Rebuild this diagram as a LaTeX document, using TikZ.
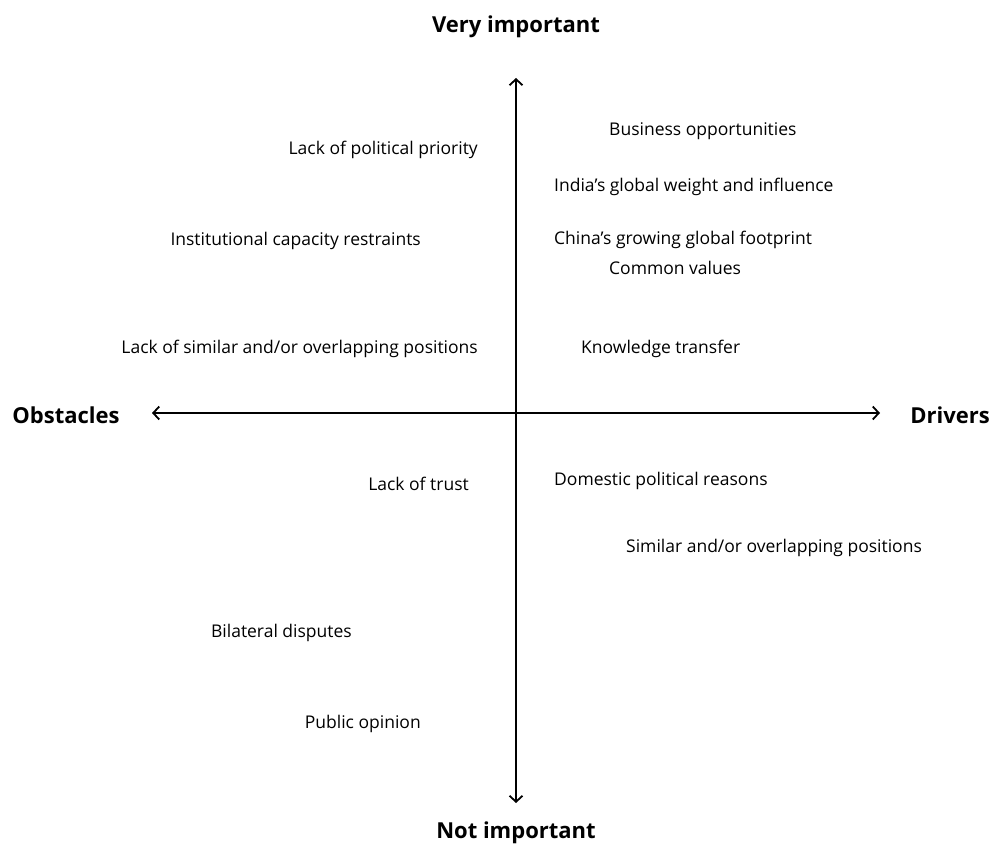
\documentclass[tikz,border=0pt]{standalone}
\usepackage{fontspec}
\setmainfont{Open Sans}
\usepackage{tikz}
\usetikzlibrary{positioning,arrows.meta}
\usepackage{xcolor}

\begin{document}
\begin{tikzpicture}[x=1pt,y=1pt,
  factor/.style={font=\fontsize{17.5}{20}\selectfont,inner sep=0pt},
  axislabel/.style={font=\fontsize{22}{24}\bfseries\selectfont,inner sep=0pt},
  axis/.style={line width=1.8pt,{Straight Barb[length=6pt,width=13pt,line width=1.8pt]}-{Straight Barb[length=6pt,width=13pt,line width=1.8pt]}}]
\useasboundingbox (0,0) rectangle (996,847);
\coordinate (top) at (516,769);
\coordinate (bottom) at (516,44);
\coordinate (left) at (152,434);
\coordinate (right) at (880,434);
\draw [axis](bottom)--(top);
\draw [axis](left)--(right);
\node [axislabel] (very) at (516,820) {Very important};
\node [axislabel] (notimp) at (516,14) {Not important};
\node [axislabel] (obstacles) at (66,432) {Obstacles};
\node [axislabel] (drivers) at (950,432) {Drivers};
\node [factor,anchor=east] (priority) at (478,697) {Lack of political priority};
\node [factor,anchor=east] (capacity) at (421,606) {Institutional capacity restraints};
\node [factor,anchor=east] (lacksimilar) at (478,498) {Lack of similar and/or overlapping positions};
\node [factor,anchor=east] (trust) at (469,363) {Lack of trust};
\node [factor,anchor=east] (disputes) at (352,214) {Bilateral disputes};
\node [factor,anchor=east] (opinion) at (421,123) {Public opinion};
\node [factor,anchor=west] (business) at (609,716) {Business opportunities};
\node [factor,anchor=west] (india) at (554,660) {India’s global weight and influence};
\node [factor,anchor=west] (china) at (554,607) {China’s growing global footprint};
\node [factor,anchor=west] (values) at (609,579) {Common values};
\node [factor,anchor=west] (knowledge) at (581,498) {Knowledge transfer};
\node [factor,anchor=west] (domestic) at (554,366) {Domestic political reasons};
\node [factor,anchor=west] (similar) at (626,299) {Similar and/or overlapping positions};
\end{tikzpicture}
\end{document}
